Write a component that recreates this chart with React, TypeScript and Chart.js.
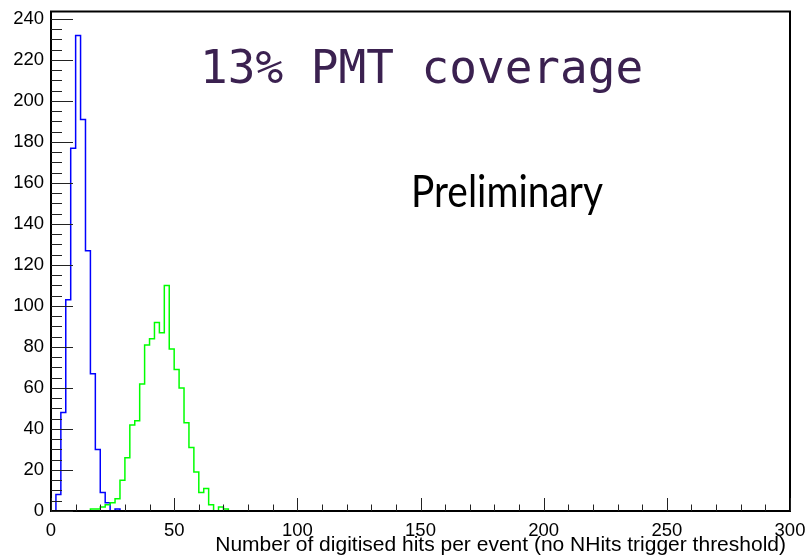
import React, { useEffect, useRef } from 'react';
import { Chart, registerables } from 'chart.js';

Chart.register(...registerables);

// ---- data (counts per 2-unit bin starting at x = 0; bins beyond the arrays are empty) ----
const BIN_WIDTH = 2;
const X_MIN = 0;
const X_MAX = 300;
const Y_MIN = 0;
const Y_MAX = 243.6;

const blueCounts = [0, 8, 48, 103, 177, 232, 191, 127, 67, 30, 9, 4, 0, 1];
const greenCounts = [
  0, 0, 0, 0, 0, 0, 0, 0, 1, 1, 2, 3, 4, 6, 15, 26, 42, 44, 62, 81, 84, 92, 87, 110,
  79, 69, 60, 43, 31, 19, 9, 11, 3, 0, 2, 1,
];

const xMajorTicks = [0, 50, 100, 150, 200, 250, 300];
const X_MINOR_STEP = 10;
const yMajorTicks = [0, 20, 40, 60, 80, 100, 120, 140, 160, 180, 200, 220, 240];
const Y_MINOR_STEP = 5;

const xAxisTitle = 'Number of digitised hits per event (no NHits trigger threshold)';
const titleText = '13% PMT coverage';
const prelimText = 'Preliminary';

function histPoints(counts: number[]) {
  const nBins = Math.round((X_MAX - X_MIN) / BIN_WIDTH);
  const pts: { x: number; y: number }[] = [];
  for (let i = 0; i < nBins; i++) {
    pts.push({ x: X_MIN + i * BIN_WIDTH, y: counts[i] ?? 0 });
  }
  pts.push({ x: X_MAX, y: counts[nBins - 1] ?? 0 });
  return pts;
}

const rootFrame = {
  id: 'rootFrame',
  afterDraw(chart: any) {
    const { ctx, chartArea: a, scales } = chart;
    const xs = scales.x;
    const ys = scales.y;
    ctx.save();
    // top & right frame
    ctx.strokeStyle = '#000';
    ctx.lineWidth = 2;
    ctx.beginPath();
    ctx.moveTo(a.left - 1, a.top);
    ctx.lineTo(a.right, a.top);
    ctx.lineTo(a.right, a.bottom + 1);
    ctx.stroke();

    // inward ticks
    ctx.strokeStyle = '#222';
    ctx.lineWidth = 1;
    ctx.beginPath();
    for (let v = Y_MIN; v <= Y_MAX; v += Y_MINOR_STEP) {
      const py = Math.round(ys.getPixelForValue(v)) + 0.5;
      const major = yMajorTicks.includes(v);
      ctx.moveTo(a.left, py);
      ctx.lineTo(a.left + (major ? 22 : 11), py);
    }
    for (let v = X_MIN; v <= X_MAX; v += X_MINOR_STEP) {
      const px = Math.round(xs.getPixelForValue(v)) + 0.5;
      const major = xMajorTicks.includes(v);
      ctx.moveTo(px, a.bottom);
      ctx.lineTo(px, a.bottom - (major ? 13 : 6.5));
    }
    ctx.stroke();

    // x-axis title (right-aligned like ROOT)
    ctx.fillStyle = '#000';
    ctx.font = '21px "Liberation Sans", Arial, sans-serif';
    ctx.textAlign = 'right';
    ctx.textBaseline = 'middle';
    ctx.fillText(xAxisTitle, a.right - 4, 545);

    // annotations
    ctx.fillStyle = '#3b2150';
    ctx.font = '46px "DejaVu Sans Mono"';
    ctx.textAlign = 'left';
    ctx.textBaseline = 'alphabetic';
    ctx.fillText(titleText, 200, 83);

    ctx.fillStyle = '#000';
    ctx.font = '44px Lato';
    ctx.fillText(prelimText, 411, 207, 192);
    ctx.restore();
  },
};

export default function App() {
  const ref = useRef<HTMLCanvasElement | null>(null);

  useEffect(() => {
    if (!ref.current) return;
    const tickFont = { family: '"Liberation Sans", Arial, sans-serif', size: 18.5 };
    const chart = new Chart(ref.current, {
      type: 'line',
      data: {
        datasets: [
          {
            data: histPoints(greenCounts),
            borderColor: '#00ff00',
            borderWidth: 1.5,
            stepped: 'before',
            pointRadius: 0,
            fill: false,
          },
          {
            data: histPoints(blueCounts),
            borderColor: '#0000ff',
            borderWidth: 1.5,
            stepped: 'before',
            pointRadius: 0,
            fill: false,
          },
        ],
      },
      options: {
        responsive: false,
        animation: false,
        devicePixelRatio: 1,
        layout: { autoPadding: false, padding: { left: 0, right: 16, top: 11.6, bottom: 0 } },
        plugins: { legend: { display: false }, tooltip: { enabled: false } },
        scales: {
          x: {
            type: 'linear',
            min: X_MIN,
            max: X_MAX,
            z: 1,
            grid: { display: false, drawTicks: false },
            border: { display: true, color: '#000', width: 2, z: 1 },
            afterBuildTicks: (s: any) => {
              s.ticks = xMajorTicks.map((v) => ({ value: v }));
            },
            afterFit: (s: any) => {
              s.height = 48;
              s.paddingLeft = 0;
              s.paddingRight = 0;
              s.paddingTop = 0;
              s.paddingBottom = 0;
            },
            ticks: { color: '#000', font: tickFont, padding: 9, maxRotation: 0, autoSkip: false },
          },
          y: {
            type: 'linear',
            min: Y_MIN,
            max: Y_MAX,
            z: 1,
            grid: { display: false, drawTicks: false },
            border: { display: true, color: '#000', width: 2, z: 1 },
            afterBuildTicks: (s: any) => {
              s.ticks = yMajorTicks.map((v) => ({ value: v }));
            },
            afterFit: (s: any) => {
              s.width = 51;
              s.paddingLeft = 0;
              s.paddingRight = 0;
              s.paddingTop = 0;
              s.paddingBottom = 0;
            },
            ticks: { color: '#000', font: tickFont, padding: 7, autoSkip: false },
          },
        },
      },
      plugins: [rootFrame],
    } as any);
    return () => chart.destroy();
  }, []);

  return (
    <div style={{ position: 'fixed', left: 0, top: 0, width: 806, height: 559, background: '#fff' }}>
      <canvas ref={ref} width={806} height={559} style={{ width: 806, height: 559, display: 'block' }} />
    </div>
  );
}
